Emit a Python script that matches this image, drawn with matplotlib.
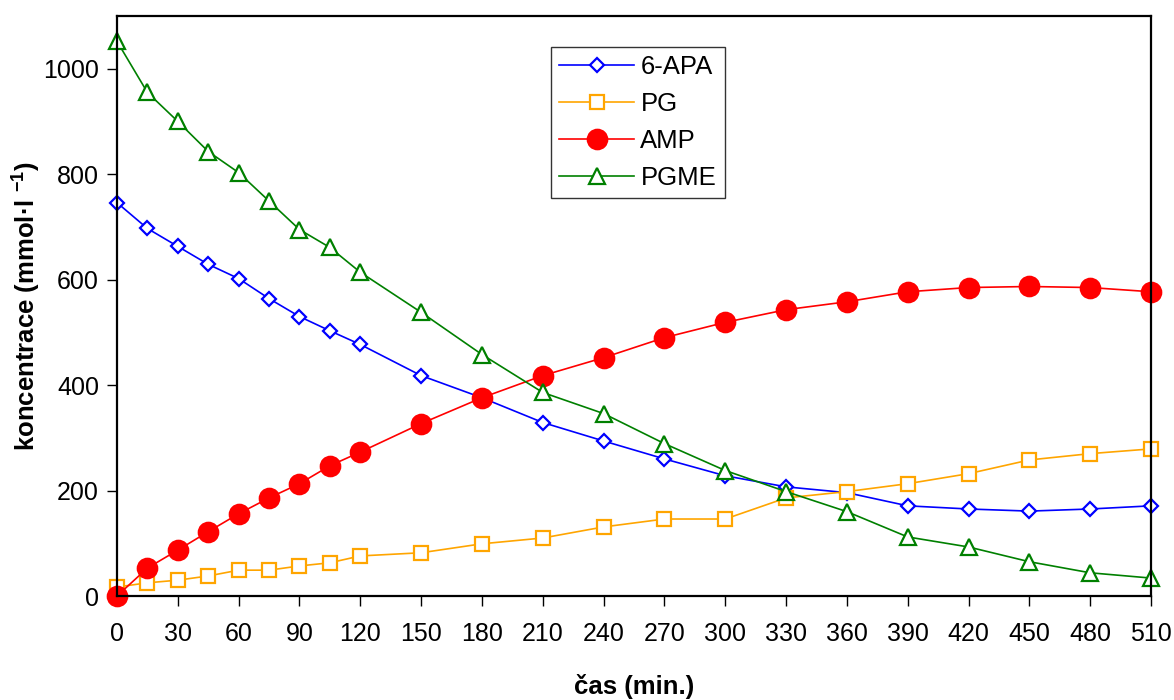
import matplotlib
matplotlib.use("Agg")
import matplotlib.pyplot as plt

plt.rcParams['font.family'] = ['Liberation Sans', 'DejaVu Sans']
plt.rcParams['mathtext.fontset'] = 'custom'
plt.rcParams['mathtext.rm'] = 'Liberation Sans'
plt.rcParams['mathtext.bf'] = 'Liberation Sans:bold'

# sampling times (min)
time = [0, 15, 30, 45, 60, 75, 90, 105, 120, 150, 180, 210, 240, 270, 300,
        330, 360, 390, 420, 450, 480, 510]

# concentrations (mmol/l)
apa6 = [746, 697, 663, 629, 602, 564, 530, 503, 477, 418, 376, 329, 294, 260,
        228, 207, 196, 171, 165, 161, 165, 171]
pg = [17, 25, 30, 38, 49, 49, 57, 63, 76, 82, 99, 110, 131, 146, 146, 186,
      198, 213, 232, 258, 270, 279]
amp = [0, 53, 87, 122, 156, 186, 213, 247, 273, 327, 376, 418, 452, 490, 519,
       543, 558, 577, 585, 587, 585, 577]
pgme = [1052, 955, 900, 843, 803, 749, 695, 661, 614, 538, 458, 386, 346, 289,
        238, 198, 160, 112, 93, 65, 44, 34]

series_names = ['6-APA', 'PG', 'AMP', 'PGME']
x_ticks = list(range(0, 511, 30))
y_ticks = list(range(0, 1001, 200))

fig = plt.figure(figsize=(11.74, 7.0), dpi=100)
ax = fig.add_axes([117 / 1174, 104 / 700, 1034 / 1174, 580 / 700])

common = dict(linewidth=1.2, markeredgewidth=1.6, clip_on=False)
ax.plot(time, apa6, color='#0000FF', marker='D', markersize=7.5,
        markerfacecolor='white', markeredgecolor='#0000FF',
        label=series_names[0], **common)
ax.plot(time, pg, color='#FFA500', marker='s', markersize=10.5,
        markerfacecolor='white', markeredgecolor='#FFA500',
        label=series_names[1], **common)
ax.plot(time, amp, color='#FF0000', marker='o', markersize=14,
        markerfacecolor='#FF0000', markeredgecolor='#FF0000',
        label=series_names[2], **common)
ax.plot(time, pgme, color='#008000', marker='^', markersize=12,
        markerfacecolor='white', markeredgecolor='#008000',
        label=series_names[3], **common)

ax.set_xlim(0, 510)
ax.set_ylim(0, 1100)
ax.set_xticks(x_ticks)
ax.set_yticks(y_ticks)
ax.tick_params(axis='both', direction='out', length=7, width=1.0,
               labelsize=18, colors='black', pad=6)
ax.tick_params(axis='x', pad=12)
for s in ax.spines.values():
    s.set_linewidth(1.6)
    s.set_color('black')

ax.set_xlabel('čas (min.)', fontsize=18.5, fontweight='bold', labelpad=20)
ax.set_ylabel(r'koncentrace (mmol·l $^{\mathbf{-1}}$)', fontsize=18.5,
              fontweight='bold', labelpad=1)

leg = ax.legend(loc='upper left', bbox_to_anchor=(0.4197, 0.9466),
                fontsize=18.5, frameon=True, fancybox=False, shadow=False,
                handlelength=2.9, borderpad=0.33, labelspacing=0.5,
                handletextpad=0.25, borderaxespad=0)
leg.get_frame().set_edgecolor('black')
leg.get_frame().set_linewidth(1.0)

fig.savefig('out.png', dpi=100)
